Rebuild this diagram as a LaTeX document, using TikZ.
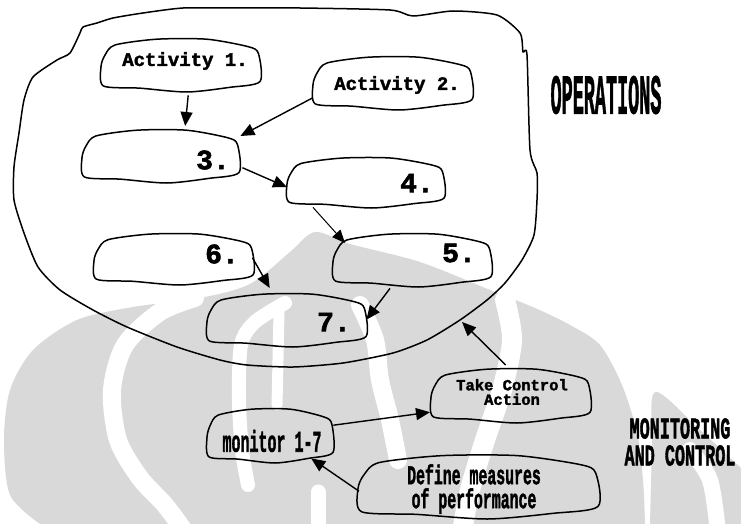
\documentclass[tikz,border=0pt]{standalone}
\usepackage{fontspec}
\usepackage{graphicx}
\usetikzlibrary{arrows.meta,calc}
\newfontfamily\monofam{Liberation Mono}[BoldFeatures={FakeBold=2}]
\definecolor{wmgrey}{RGB}{217,217,217}

% condensed bold label line: scale, size, text
\newcommand\condline[3]{\scalebox{#1}[1]{\fontsize{#2}{#2}\selectfont\monofam\bfseries #3}}

% hand-drawn box: name, left, top, width, height
\newcommand\handbox[5]{%
  \node[inner sep=0pt, minimum width=#4pt, minimum height=#5pt, anchor=north west] (#1) at (#2,#3) {};
  \begin{scope}[shift={(#2,#3)}, x=#4pt, y=-#5pt]
    \draw[boxline] plot[smooth cycle, tension=0.45] coordinates {
      (0,0.54) (0.025,0.33) (0.088,0.145) (0.35,0.04) (0.665,0.04)
      (0.926,0.176) (0.99,0.30) (1,0.81) (0.81,0.915) (0.54,1.0)
      (0.245,0.93) (0.015,0.89)};
  \end{scope}}

\tikzset{
  boxline/.style={line width=1.5pt, line join=round},
  opsline/.style={line width=1.5pt, line join=round},
  arr/.style={line width=1.4pt, -{Triangle[length=14pt,width=12pt]}},
  thinarr/.style={line width=1pt, -{Triangle[length=13pt,width=11pt]}},
  wm/.style={fill=wmgrey},
  wmgap/.style={draw=white, line cap=round},
  actlabel/.style={font=\monofam\bfseries\fontsize{19}{19}\selectfont, inner sep=0pt},
  numlabel/.style={font=\monofam\bfseries\fontsize{28}{28}\selectfont, inner sep=0pt},
  smalllabel/.style={font=\monofam\bfseries\fontsize{15.5}{14.5}\selectfont, inner sep=0pt, align=center},
  condlabel/.style={inner sep=0pt, align=center},
}

\begin{document}
\begin{tikzpicture}[x=1pt,y=-1pt]
\useasboundingbox (0,0) rectangle (741,524);
\fill[white] (0,0) rectangle (741,524);

% faint background emblem
\fill[wm] plot[smooth] coordinates {(40,524) (10,495) (4,440) (10,390) (33,350) (77,320) (133,307)
  (200,298) (250,284) (290,252) (315,232) (350,244) (420,262) (490,290) (535,308) (570,325)
  (600,345) (622,385) (637,433) (643,480) (645,524)} -- cycle;
\fill[wm] plot[smooth] coordinates {(650,524) (652,450) (655,392) (700,430) (741,468)} -- (741,524) -- cycle;
\draw[wmgap, line width=18pt] plot[smooth] coordinates {(195,298) (160,312) (125,345) (112,390) (118,440) (140,478) (165,505) (185,532)};
\draw[wmgap, line width=14pt] plot[smooth] coordinates {(285,303) (255,322) (241,345) (239,400) (242,450) (248,485)};
\draw[wmgap, line width=11pt] plot[smooth] coordinates {(279,312) (278,360) (277,405)};
\draw[wmgap, line width=18pt] plot[smooth] coordinates {(360,305) (375,340) (380,380) (390,420) (398,460)};
\draw[wmgap, line width=20pt] plot[smooth] coordinates {(505,300) (512,340) (502,390) (485,440) (470,490) (462,532)};
\draw[wmgap, line width=15pt] plot[smooth] coordinates {(318,492) (318,532)};
\draw[wmgap, line width=16pt] plot[smooth] coordinates {(690,450) (710,480) (718,532)};

% operations boundary
\draw[opsline] plot[smooth cycle, tension=0.4] coordinates {
  (537,200) (534,235) (522,260) (505,283) (487,300) (460,320) (427,340) (393,353) (343,363)
  (293,367) (247,365) (220,360) (177,347) (127,327) (93,310) (60,290) (38,267) (24,233)
  (14,200) (14,167) (19,133) (24,100) (33,77) (57,60) (70,53) (80,33) (83,27) (97,23)
  (113,18) (143,13) (183,8) (233,8) (300,8) (390,10) (413,16) (453,11) (497,15) (520,33)
  (523,52) (527,55) (530,150) (537,173)};
\coordinate (opsedge) at (462,322);

% boxes
\handbox{act1}{101}{37}{159}{55}
\handbox{act2}{313}{55}{159}{55}
\handbox{b3}{82}{128}{157}{55}
\handbox{b4}{287}{156}{157}{52}
\handbox{b5}{333}{232}{158}{55}
\handbox{b6}{94}{232}{159}{53}
\handbox{b7}{207}{292}{159}{55}
\handbox{ctrl}{431}{367}{159}{56}
\handbox{mon}{207}{407}{126}{56}
\handbox{def}{358}{453}{240}{66}

% labels
\node[actlabel] (act1t) at (185,61) {Activity 1.};
\node[actlabel] (act2t) at (397,85) {Activity 2.};
\node[numlabel] (b3t) at (213,160) {3.};
\node[numlabel] (b4t) at (417,183) {4.};
\node[numlabel] (b5t) at (459,253) {5.};
\node[numlabel] (b6t) at (222,254) {6.};
\node[numlabel] (b7t) at (334,322) {7.};
\node[smalllabel] (ctrlt) at (512,392) {Take Control\\Action};
\node[condlabel] (mont) at (272,441) {\condline{0.5}{30}{monitor 1-7}};
\node[condlabel, font=\fontsize{27}{24}\selectfont] (deft) at (474,489)
  {\condline{0.55}{27}{Define measures}\\\condline{0.55}{27}{of performance}};
\node[condlabel] (opst) at (606,95) {\condline{0.33}{56}{OPERATIONS}};
\node[condlabel, font=\fontsize{30}{27}\selectfont] (mct) at (680,442)
  {\condline{0.56}{30}{MONITORING}\\\condline{0.56}{30}{AND CONTROL}};

% connectors
\draw[arr] ($(act1.south)+(7.5,3)$) -- ($(b3.north)+(24.5,-2)$);
\draw[arr] ($(act2.west)+(0,15)$) -- ($(b3.north east)+(1,8)$);
\draw[arr] ($(b3.east)+(3,12)$) -- ($(b4.west)+(0,5)$);
\draw[thinarr] ($(b4.south west)+(26,-1)$) -- ($(b5.north west)+(12,11)$);
\draw[arr] ($(b6.east)+(-1,-1)$) -- ($(b7.north)+(-17,-4)$);
\draw[arr] ($(b5.south west)+(57,1)$) -- (b7.east);
\draw[arr] ($(ctrl.north)+(-5,-2)$) -- (opsedge);
\draw[arr] ($(mon.east)+(0,-10)$) -- ($(ctrl.west)+(-1,17)$);
\draw[arr] ($(def.west)+(1,5)$) -- ($(mon.south)+(41,-5)$);
\end{tikzpicture}
\end{document}
